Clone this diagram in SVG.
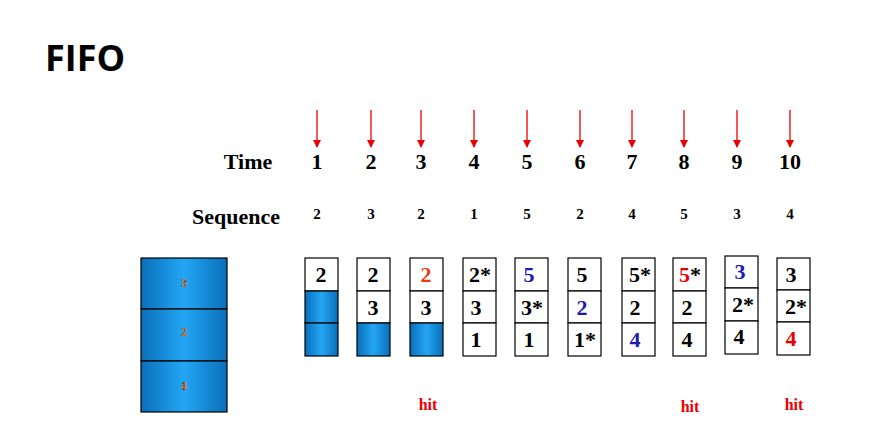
<svg xmlns="http://www.w3.org/2000/svg" width="871" height="439" viewBox="0 0 871 439">
<defs>
<linearGradient id="blue" x1="0" y1="0" x2="1" y2="0">
<stop offset="0" stop-color="#0a6fb8"/><stop offset="0.5" stop-color="#23a6f5"/><stop offset="1" stop-color="#0a6fb8"/>
</linearGradient>
<marker id="ah" markerWidth="8" markerHeight="8" refX="7" refY="4" orient="auto" markerUnits="userSpaceOnUse">
<path d="M0,0 L8,4 L0,8 z" fill="#e00"/>
</marker>
<style>
.t{font-family:"Liberation Serif",serif;font-weight:bold;fill:#000}
.c{fill:#fff;stroke:#000;stroke-width:1.2}
.b{fill:url(#blue);stroke:#000;stroke-width:1.2}
.n{font-family:"Liberation Serif",serif;font-weight:bold;font-size:22px;text-anchor:middle}
.r{fill:#e00}.bl{fill:#1a1ab8}
.a{stroke:#e00;stroke-width:1.3}
</style>
</defs>
<rect width="871" height="439" fill="#fff"/>
<text x="45" y="71" font-family="Open Sans,Liberation Sans,sans-serif" font-weight="bold" font-size="36">FIFO</text>
<g id="arrows">
<line class="a" x1="317" y1="110" x2="317" y2="147" marker-end="url(#ah)"/>
<line class="a" x1="371" y1="110" x2="371" y2="147" marker-end="url(#ah)"/>
<line class="a" x1="421" y1="110" x2="421" y2="147" marker-end="url(#ah)"/>
<line class="a" x1="474" y1="110" x2="474" y2="147" marker-end="url(#ah)"/>
<line class="a" x1="527" y1="110" x2="527" y2="147" marker-end="url(#ah)"/>
<line class="a" x1="580" y1="110" x2="580" y2="147" marker-end="url(#ah)"/>
<line class="a" x1="632" y1="110" x2="632" y2="147" marker-end="url(#ah)"/>
<line class="a" x1="684" y1="110" x2="684" y2="147" marker-end="url(#ah)"/>
<line class="a" x1="737" y1="110" x2="737" y2="147" marker-end="url(#ah)"/>
<line class="a" x1="790" y1="110" x2="790" y2="147" marker-end="url(#ah)"/>
</g>
<g id="time" class="t" font-size="22" text-anchor="middle">
<text x="248" y="169">Time</text>
<text x="317" y="169">1</text><text x="371" y="169">2</text><text x="421" y="169">3</text><text x="474" y="169">4</text><text x="527" y="169">5</text><text x="580" y="169">6</text><text x="632" y="169">7</text><text x="684" y="169">8</text><text x="737" y="169">9</text><text x="790" y="169">10</text>
</g>
<g id="sequence" class="t" text-anchor="middle">
<text x="236" y="224" font-size="22">Sequence</text>
<g font-size="15">
<text x="317" y="219">2</text><text x="371" y="219">3</text><text x="421" y="219">2</text><text x="474" y="219">1</text><text x="527" y="219">5</text><text x="580" y="219">2</text><text x="632" y="219">4</text><text x="684" y="219">5</text><text x="737" y="219">3</text><text x="790" y="219">4</text>
</g>
</g>
<g id="memory">
<rect class="b" x="141" y="258" width="86" height="51"/>
<rect class="b" x="141" y="309" width="86" height="52"/>
<rect class="b" x="141" y="361" width="86" height="51"/>
<g font-family="Liberation Serif,serif" font-weight="bold" font-size="13" text-anchor="middle">
<text x="184" y="287" fill="#444">3</text><text x="184" y="287" fill="#e87d2a" opacity="0.8">5</text>
<text x="184" y="336" fill="#444">2</text><text x="184" y="336" fill="#e87d2a" opacity="0.8">2</text>
<text x="184" y="390" fill="#444">1</text><text x="184" y="390" fill="#e87d2a" opacity="0.8">4</text>
</g>
</g>
<g id="col1"><rect class="c" x="305" y="258" width="33" height="33"/><rect class="b" x="305" y="291" width="33" height="32"/><rect class="b" x="305" y="323" width="33" height="33"/>
<text class="n" x="321" y="282">2</text></g>
<g id="col2"><rect class="c" x="357" y="258" width="33" height="33"/><rect class="c" x="357" y="291" width="33" height="32"/><rect class="b" x="357" y="323" width="33" height="33"/>
<text class="n" x="373" y="282">2</text><text class="n" x="373" y="315">3</text></g>
<g id="col3"><rect class="c" x="410" y="258" width="33" height="33"/><rect class="c" x="410" y="291" width="33" height="32"/><rect class="b" x="410" y="323" width="33" height="33"/>
<text class="n r" x="426" y="282" style="fill:#f03a10">2</text><text class="n" x="426" y="315">3</text></g>
<g id="col4"><rect class="c" x="463" y="258" width="33" height="33"/><rect class="c" x="463" y="291" width="33" height="32"/><rect class="c" x="463" y="323" width="33" height="33"/>
<text class="n" x="480" y="282">2*</text><text class="n" x="476" y="315">3</text><text class="n" x="476" y="347">1</text></g>
<g id="col5"><rect class="c" x="515" y="258" width="33" height="33"/><rect class="c" x="515" y="291" width="33" height="32"/><rect class="c" x="515" y="323" width="33" height="33"/>
<text class="n bl" x="529" y="282">5</text><text class="n" x="532" y="315">3*</text><text class="n" x="529" y="347">1</text></g>
<g id="col6"><rect class="c" x="568" y="258" width="33" height="33"/><rect class="c" x="568" y="291" width="33" height="32"/><rect class="c" x="568" y="323" width="33" height="33"/>
<text class="n" x="582" y="282">5</text><text class="n bl" x="582" y="315">2</text><text class="n" x="585" y="347">1*</text></g>
<g id="col7"><rect class="c" x="622" y="258" width="33" height="33"/><rect class="c" x="622" y="291" width="33" height="32"/><rect class="c" x="622" y="323" width="33" height="33"/>
<text class="n" x="640" y="282">5*</text><text class="n" x="635" y="315">2</text><text class="n bl" x="635" y="347">4</text></g>
<g id="col8"><rect class="c" x="673" y="258" width="33" height="33"/><rect class="c" x="673" y="291" width="33" height="32"/><rect class="c" x="673" y="323" width="33" height="33"/>
<text class="n" x="690" y="282"><tspan class="r">5</tspan>*</text><text class="n" x="687" y="315">2</text><text class="n" x="687" y="347">4</text></g>
<g id="col9"><rect class="c" x="725" y="256" width="33" height="32"/><rect class="c" x="725" y="288" width="33" height="33"/><rect class="c" x="725" y="321" width="33" height="33"/>
<text class="n bl" x="740" y="279" font-size="16">3</text><text class="n" x="743" y="312">2*</text><text class="n" x="739" y="344">4</text></g>
<g id="col10"><rect class="c" x="777" y="258" width="33" height="32"/><rect class="c" x="777" y="290" width="33" height="32"/><rect class="c" x="777" y="322" width="33" height="33"/>
<text class="n" x="791" y="282">3</text><text class="n" x="796" y="314">2*</text><text class="n r" x="791" y="346">4</text></g>
<g id="hits" font-family="Liberation Serif,serif" font-weight="bold" font-size="16" fill="#e00" text-anchor="middle">
<text x="428" y="410">hit</text><text x="690" y="412">hit</text><text x="794" y="410">hit</text>
</g>
</svg>
